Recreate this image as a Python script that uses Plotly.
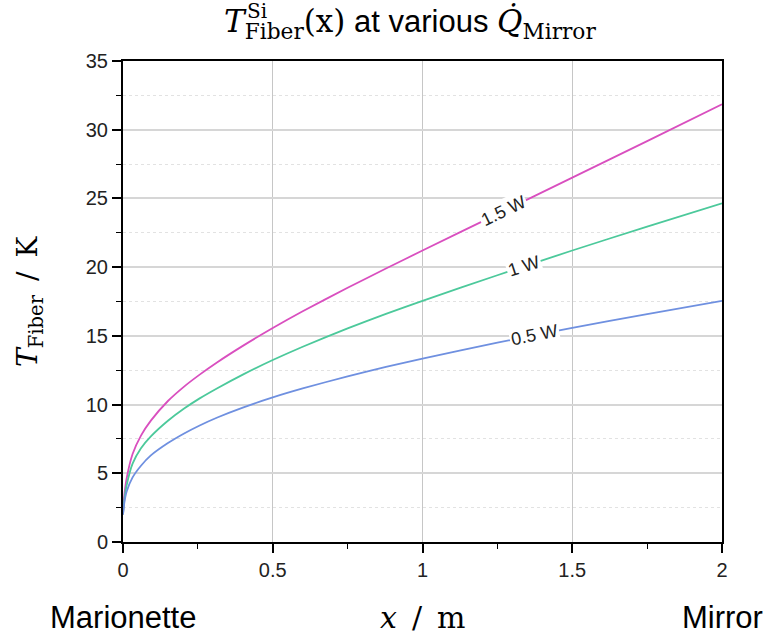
import numpy as np
import plotly.graph_objects as go

# Position along the fibre (m)
x_m = [0, 0.004, 0.012, 0.032, 0.06, 0.093, 0.15, 0.204, 0.256, 0.315, 0.4,
       0.5, 0.6, 0.75, 0.878, 1.0, 1.25, 1.5, 1.75, 2.0]

# Fibre temperature (K) for each mirror heat load
t_15w = [2.0, 3.3, 4.6, 6.4, 7.74, 8.83, 10.26, 11.31, 12.18, 13.08, 14.27,
         15.57, 16.79, 18.5, 19.9, 21.21, 23.86, 26.51, 29.17, 31.85]
t_10w = [2.0, 2.98, 4.1, 5.7, 6.82, 7.68, 8.82, 9.71, 10.45, 11.19, 12.18,
         13.24, 14.21, 15.55, 16.6, 17.55, 19.41, 21.21, 22.95, 24.65]
t_05w = [2.0, 2.8, 3.65, 4.7, 5.55, 6.3, 7.2, 7.9, 8.48, 9.06, 9.78,
         10.52, 11.17, 12.06, 12.74, 13.35, 14.5, 15.58, 16.58, 17.55]

series_names = ["1.5 W", "1 W", "0.5 W"]
series_vals = [t_15w, t_10w, t_05w]
series_colors = ["#d94fbf", "#4cc99b", "#6f90e0"]
label_x = [1.27, 1.34, 1.373]
label_angle = [-25.9, -18.0, -11.2]

x_ticks = [0, 0.5, 1, 1.5, 2]
y_ticks = [0, 5, 10, 15, 20, 25, 30, 35]

W, H = 763, 634
ML, MR, MT, MB = 123, 41, 61, 92
PW, PH = W - ML - MR, H - MT - MB


def px_x(p):
    return (p - ML) / PW


def px_y(p):
    return (H - MB - p) / PH


SANS = "Liberation Sans, Arial, sans-serif"
SERIF = "DejaVu Serif, serif"
GAP = "\u2002"  # wide space around the unit slash

fig = go.Figure()
for name, vals, col in zip(series_names, series_vals, series_colors):
    fig.add_trace(go.Scatter(x=x_m, y=vals, mode="lines", name=name,
                             line=dict(color=col, width=1.8, shape="spline",
                                       smoothing=0.6),
                             showlegend=False))

annotations = []
for name, vals, col, lx, ang in zip(series_names, series_vals, series_colors,
                                    label_x, label_angle):
    annotations.append(dict(
        x=lx, y=float(np.interp(lx, x_m, vals)), xref="x", yref="y",
        text=name, showarrow=False, textangle=ang,
        font=dict(family=SANS, size=18, color="#222"),
        bgcolor="white", borderpad=1))

# Title:  T^Si_Fiber(x) at various Q̇_Mirror
annotations.append(dict(
    xref="paper", yref="paper", x=px_x(222), y=px_y(23),
    xanchor="left", yanchor="middle", showarrow=False,
    text=(f'<span style="font-family:{SERIF}"><i>T</i><sub>Fiber</sub>(x)</span>'
          f' at various '
          f'<span style="font-family:{SERIF}"><i>Q\u0307</i><sub>Mirror</sub></span>'),
    font=dict(family=SANS, size=31, color="black")))
annotations.append(dict(
    xref="paper", yref="paper", x=px_x(245), y=px_y(11),
    xanchor="left", yanchor="middle", showarrow=False,
    text="Si", font=dict(family=SERIF, size=20, color="black")))

# Axis titles
annotations.append(dict(
    xref="paper", yref="paper", x=px_x(29), y=px_y(302),
    xanchor="center", yanchor="middle", showarrow=False, textangle=-90,
    text=f"<i>T</i><sub>Fiber</sub>{GAP}/{GAP}K",
    font=dict(family=SERIF, size=28, color="black")))
annotations.append(dict(
    xref="x", yref="paper", x=1, y=px_y(617),
    xanchor="center", yanchor="middle", showarrow=False,
    text=f"<i>x</i>{GAP}/{GAP}m", font=dict(family=SERIF, size=30, color="black")))
annotations.append(dict(
    xref="x", yref="paper", x=0, y=px_y(617),
    xanchor="center", yanchor="middle", showarrow=False,
    text="Marionette", font=dict(family=SANS, size=31, color="black")))
annotations.append(dict(
    xref="x", yref="paper", x=2, y=px_y(617),
    xanchor="center", yanchor="middle", showarrow=False,
    text="Mirror", font=dict(family=SANS, size=31, color="black")))

fig.update_layout(
    width=W, height=H,
    margin=dict(l=ML, r=MR, t=MT, b=MB),
    paper_bgcolor="white", plot_bgcolor="white",
    annotations=annotations,
    xaxis=dict(
        range=[0, 2], tickvals=x_ticks, ticktext=[f"{v:g}" for v in x_ticks],
        showline=True, linecolor="black", linewidth=2, mirror=True,
        ticks="outside", ticklen=9, tickwidth=1.5, tickcolor="black",
        tickfont=dict(family=SANS, size=20, color="#222"),
        showgrid=True, gridcolor="#c6c6c6", gridwidth=1, zeroline=False,
        minor=dict(dtick=0.25, ticks="outside", ticklen=5, tickwidth=1.2,
                   tickcolor="black", showgrid=False),
    ),
    yaxis=dict(
        range=[0, 35], tickvals=y_ticks,
        showline=True, linecolor="black", linewidth=2, mirror=True,
        ticks="outside", ticklen=9, tickwidth=1.5, tickcolor="black",
        tickfont=dict(family=SANS, size=20, color="#222"),
        showgrid=True, gridcolor="#d6d6d6", gridwidth=1.5, zeroline=False,
        minor=dict(dtick=2.5, ticks="outside", ticklen=5, tickwidth=1.2,
                   tickcolor="black", showgrid=True, gridcolor="#e2e2e2",
                   gridwidth=1, griddash="3px,3px"),
    ),
)

fig.write_html("out.html")
